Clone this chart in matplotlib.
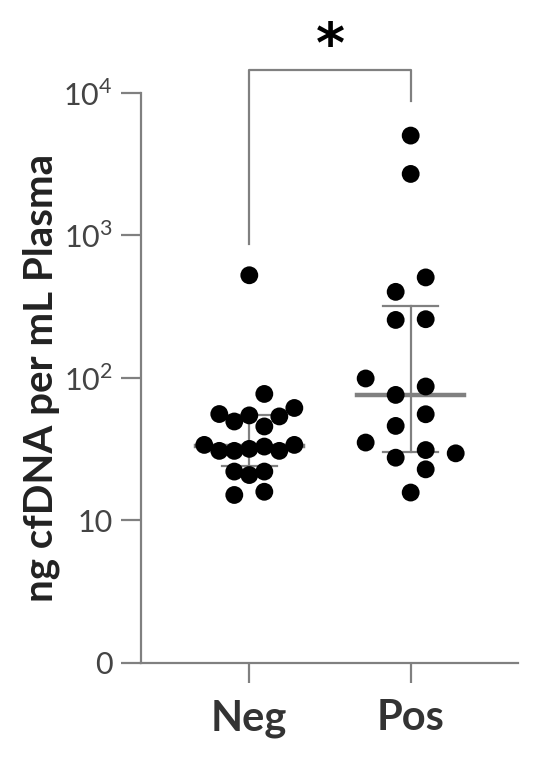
import matplotlib
matplotlib.use("Agg")
import matplotlib.pyplot as plt
import numpy as np
from matplotlib.ticker import FixedLocator, NullLocator

plt.rcParams["font.family"] = ["Lato", "DejaVu Sans"]
plt.rcParams["mathtext.fontset"] = "custom"
plt.rcParams["mathtext.rm"] = "Lato"

# values (ng cfDNA per mL plasma)
groups = ["Neg", "Pos"]
neg_values = [523, 76.8, 61.2, 55.5, 54.3, 53.4, 49.2, 45.4,
              33.7, 30.6, 30.6, 31.6, 32.8, 30.6, 33.7,
              21.9, 20.7, 21.9, 15.0, 15.8]
pos_values = [5000, 2690, 505, 400, 254, 257, 98.6, 75.6, 86.6,
              55.3, 45.8, 35.0, 31.0, 27.4, 29.4, 22.7, 15.6]
# swarm slot of each point (multiples of one marker spacing)
neg_slots = [0, 1, 3, -2, 0, 2, -1, 1,
             -3, -2, -1, 0, 1, 2, 3,
             -1, 0, 1, -1, 1]
pos_slots = [0, 0, 1, -1, -1, 1, -3, -1, 1,
             1, -1, -3, 1, -1, 3, 1, 0]
# median and interquartile range as drawn
medians = [33.0, 75.6]
q1s = [24.0, 30.1]
q3s = [54.7, 319.0]
ytick_vals = [1, 10, 100, 1000, 10000]
ytick_labels = ["0", "10", "10$^2$", "10$^3$", "10$^4$"]
sig_label = "*"

GRAY = "#808080"
STEP = 0.093

fig = plt.figure(figsize=(5.5, 7.63), dpi=100)
ax = fig.add_axes([0.2564, 0.1317, 0.686, 0.7468])

for i, (med, lo, hi) in enumerate(zip(medians, q1s, q3s)):
    ax.plot([i, i], [lo, hi], color=GRAY, lw=1.6, zorder=2)
    ax.plot([i - 0.17, i + 0.17], [lo, lo], color=GRAY, lw=1.6, zorder=2)
    ax.plot([i - 0.17, i + 0.17], [hi, hi], color=GRAY, lw=1.6, zorder=2)
    ax.plot([i - 0.33, i + 0.33], [med, med], color=GRAY, lw=3.2, zorder=2)

for i, (vals, slots) in enumerate([(neg_values, neg_slots), (pos_values, pos_slots)]):
    x = i + np.array(slots) * STEP
    ax.scatter(x, vals, s=165, color="black", edgecolors="none", zorder=3)

ax.set_yscale("log")
ax.set_ylim(1, 1e4)
ax.set_xlim(-0.671, 1.667)
ax.yaxis.set_major_locator(FixedLocator(ytick_vals))
ax.yaxis.set_minor_locator(NullLocator())
ax.set_yticklabels(ytick_labels)
ax.set_xticks([0, 1])
ax.set_xticklabels(groups, fontsize=30, fontweight="bold", color="#333333")

for side in ("top", "right"):
    ax.spines[side].set_visible(False)
for side in ("left", "bottom"):
    ax.spines[side].set_color(GRAY)
    ax.spines[side].set_linewidth(1.6)
ax.tick_params(axis="both", color=GRAY, width=1.6, length=14.5)
ax.tick_params(axis="y", labelsize=22, labelcolor="#444444", pad=6)
ax.tick_params(axis="x", pad=12)

ax.set_ylabel("ng cfDNA per mL Plasma", fontsize=29, fontweight="bold",
              color="#222222", labelpad=2)

# significance bracket above the axes
ax.plot([0, 0, 1, 1], [865, 14400, 14400, 8790], color=GRAY, lw=1.6,
        clip_on=False)
ax.text(0.5, 21000, sig_label, ha="center", va="center", fontsize=40,
        fontweight="bold", family=["DejaVu Sans"])

fig.savefig("out.png", dpi=100)
